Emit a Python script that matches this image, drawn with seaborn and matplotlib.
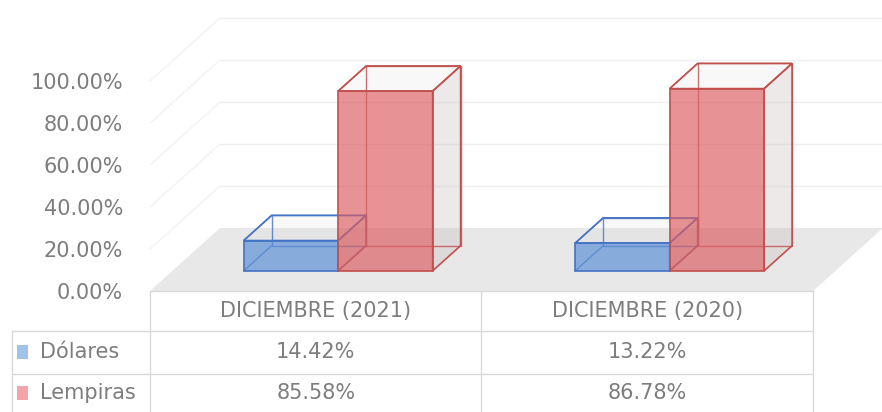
import numpy as np
import pandas as pd
import seaborn as sns
import matplotlib.pyplot as plt
from matplotlib.patches import Polygon, Rectangle
from matplotlib.colors import to_rgba
from matplotlib.transforms import blended_transform_factory

# data
periodos = ['DICIEMBRE (2021)', 'DICIEMBRE (2020)']
monedas = ['Dólares', 'Lempiras']
dolares = [14.42, 13.22]
lempiras = [85.58, 86.78]
yticks = [0, 20, 40, 60, 80, 100]

colores = ['#5a8fd6', '#dc5f63']
bordes = ['#4472c4', '#c0504d']
claves = ['#9dc3e6', '#f4a3a8']
gris = '#7d7d7d'

df = pd.DataFrame({
    'periodo': periodos * 2,
    'moneda': [monedas[0]] * 2 + [monedas[1]] * 2,
    'valor': dolares + lempiras,
})

sns.set_theme(style='white')
plt.rcParams['font.family'] = ['DejaVu Sans']

fig = plt.figure(figsize=(8.82, 4.12), dpi=100)
ax = fig.add_axes([150 / 882, 121 / 412, 663 / 882, 273 / 412])
sns.barplot(data=df, x='periodo', y='valor', hue='moneda', hue_order=monedas,
            palette=colores, width=0.57, saturation=1, legend=False, ax=ax)
barras = list(ax.patches)
ax.set_xlim(-0.5, 1.5)
ax.set_ylim(0, 130)

# fake 3d: depth vector in data units
px_x = 663 / 2
px_y = 273 / 130
DX = 70 / px_x
DY = 63 / px_y

# floor
ax.add_patch(Polygon([(-0.5, 0), (1.5, 0), (1.5 + DX, DY), (-0.5 + DX, DY)],
                     closed=True, facecolor='#e8e8e8', edgecolor='none',
                     zorder=0.5, clip_on=False))
# side wall + back wall gridlines
for v in yticks:
    if v > 0:
        ax.plot([-0.5, -0.5 + DX], [v, v + DY], color='#f2f2f2', lw=1,
                zorder=0.6, clip_on=False)
        ax.plot([-0.5 + DX, 1.5 + DX], [v + DY, v + DY], color='#efefef', lw=1,
                zorder=0.6, clip_on=False)

# bars: push back into depth and add the box wireframe
d0 = 0.32
bx, by = 0.4 * DX, 0.4 * DY
for i, p in enumerate(barras):
    k = i // len(periodos)
    x0, w, h = p.get_x() + d0 * DX, p.get_width(), p.get_height()
    y0 = d0 * DY
    p.set_x(x0)
    p.set_y(y0)
    p.set_facecolor(to_rgba(colores[k], 0.68))
    p.set_edgecolor(bordes[k])
    p.set_linewidth(1.2)
    p.set_zorder(3)
    p.set_clip_on(False)
    top = [(x0, y0 + h), (x0 + w, y0 + h), (x0 + w + bx, y0 + h + by), (x0 + bx, y0 + h + by)]
    side = [(x0 + w, y0), (x0 + w + bx, y0 + by), (x0 + w + bx, y0 + h + by), (x0 + w, y0 + h)]
    ax.add_patch(Polygon(top, closed=True, facecolor=to_rgba('#d8d0d8', 0.15),
                         edgecolor=bordes[k], lw=1.2, zorder=2, clip_on=False))
    ax.add_patch(Polygon(side, closed=True, facecolor=to_rgba('#c8b8b8', 0.3),
                         edgecolor=bordes[k], lw=1.2, zorder=2, clip_on=False))
    ax.add_patch(Rectangle((x0 + bx, y0 + by), w, h, fill=False,
                           edgecolor=bordes[k], lw=1.0, alpha=0.8, zorder=2, clip_on=False))
    for cx, cy in [(x0, y0), (x0, y0 + h)]:
        ax.plot([cx, cx + bx], [cy, cy + by], color=bordes[k], lw=1.0, alpha=0.8,
                zorder=2, clip_on=False)

ax.set_yticks(yticks)
ax.set_yticklabels([f'{t:.2f}%' for t in yticks])
ax.set_xticks([])
ax.set_xlabel('')
ax.set_ylabel('')
ax.tick_params(axis='y', length=0, pad=19.5, labelcolor=gris, labelsize=15)
sns.despine(ax=ax, left=True, bottom=True)

# data table
ov = fig.add_axes([0, 0, 1, 1])
ov.set_xlim(0, 882)
ov.set_ylim(412, 0)
ov.axis('off')
ov.patch.set_visible(False)
lc = '#d9d9d9'
ov.plot([150, 813], [291, 291], color=lc, lw=1)
for y in [331, 374]:
    ov.plot([12, 813], [y, y], color=lc, lw=1)
ov.plot([12, 12], [331, 412], color=lc, lw=1)
for x in [150, 481, 813]:
    ov.plot([x, x], [291, 412], color=lc, lw=1)

tr = blended_transform_factory(ax.transData, ov.transData)
for j, per in enumerate(periodos):
    ov.text(j, 311, per, transform=tr, ha='center', va='center', color=gris, fontsize=15)
for r, (nombre, vals) in enumerate(zip(monedas, [dolares, lempiras])):
    yc = 352 + r * 41
    ov.add_patch(Rectangle((17, yc - 7), 11, 14, facecolor=claves[r], edgecolor='none'))
    ov.text(40, yc, nombre, ha='left', va='center', color=gris, fontsize=15)
    for j, v in enumerate(vals):
        ov.text(j, yc, f'{v:.2f}%', transform=tr, ha='center', va='center',
                color=gris, fontsize=15)

fig.savefig('out.png', dpi=100)
